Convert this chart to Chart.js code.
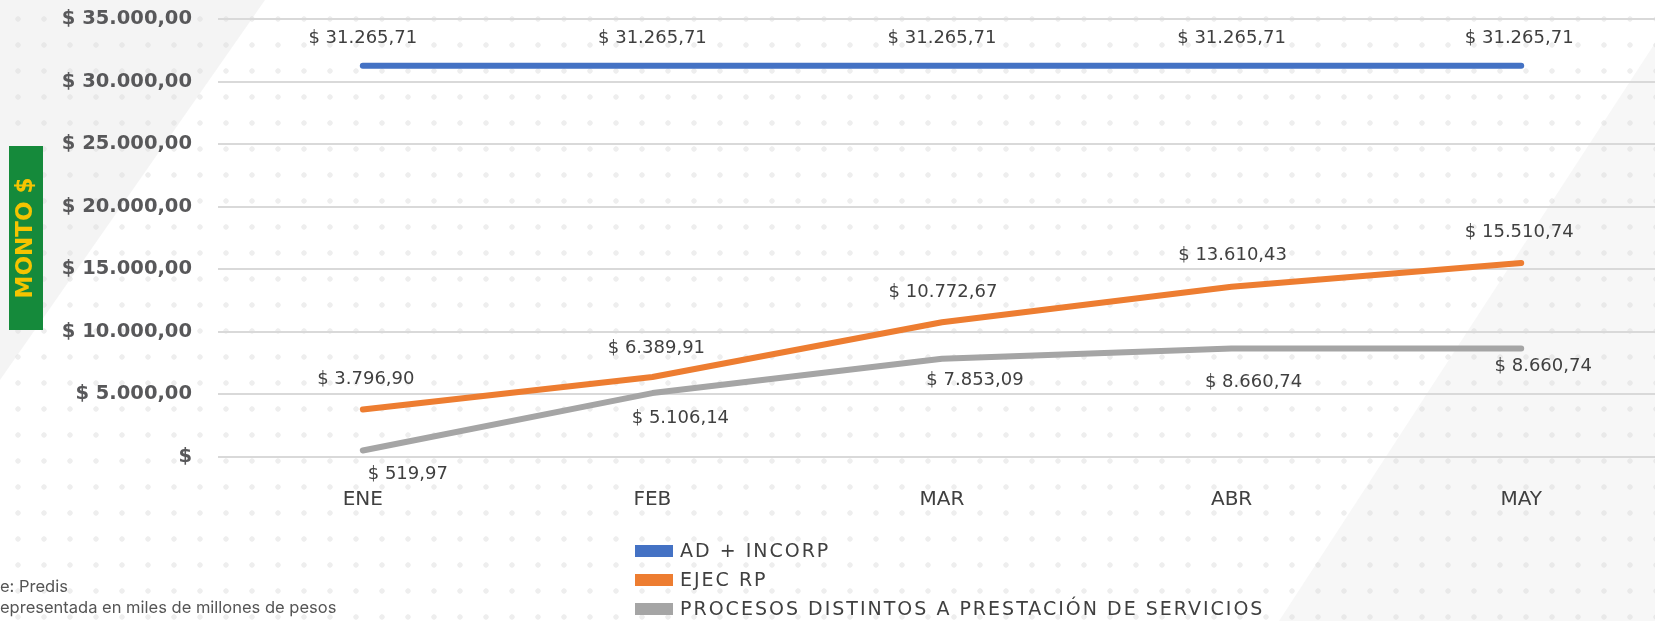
<!DOCTYPE html>
<html>
<head>
<meta charset="UTF-8">
<title>Monto por mes</title>
<style type="text/css">
html, body {
	margin: 0;
	padding: 0;
	width: 1655px;
	height: 621px;
	overflow: hidden;
	font-family: "DejaVu Sans", sans-serif;
}
body {
	position: relative;
	background-color: #ffffff;
	background-image: radial-gradient(circle, #eeeeee 0, #eeeeee 2.4px, transparent 3px);
	background-size: 26px 26px;
	background-position: 5px 6px;
}
.franja {
	position: absolute;
	background: rgba(220, 220, 220, 0.3);
}
#franjaIzq { left: 0; top: 0; width: 270px; height: 390px; clip-path: polygon(0 0, 265px 0, 0 380px); }
#franjaDer { left: 1279px; top: 43px; width: 376px; height: 578px; clip-path: polygon(376px 0, 376px 578px, 0 578px); background: rgba(220, 220, 220, 0.22); }
#contenedor {
	position: absolute;
	left: 0;
	top: 0;
	width: 1670px;
	height: 621px;
}
#leyenda {
	position: absolute;
	left: 635px;
	top: 536px;
	font-size: 19px;
	letter-spacing: 2px;
	color: #404040;
}
#leyenda div {
	height: 29px;
	line-height: 29px;
	white-space: nowrap;
}
#leyenda span.caja {
	display: inline-block;
	width: 38px;
	height: 12px;
	margin-right: 7px;
	vertical-align: 0px;
}
.nota {
	position: absolute;
	left: 0;
	font-family: Inter, "Open Sans", sans-serif;
	font-size: 16.5px;
	color: #555;
	white-space: nowrap;
}
</style>
<script type="text/javascript" src="https://cdn.jsdelivr.net/npm/chart.js@4/dist/chart.umd.min.js"></script>
</head>
<body>
	<div class="franja" id="franjaIzq"></div>
	<div class="franja" id="franjaDer"></div>
	<div id="contenedor"><canvas id="grafica" width="1670" height="621"></canvas></div>
	<div id="leyenda"></div>
	<div class="nota" style="top: 576px;">e: Predis</div>
	<div class="nota" style="top: 597px;">epresentada en miles de millones de pesos</div>
<script type="text/javascript">
	// Datos (miles de millones de pesos)
	var meses = ['ENE', 'FEB', 'MAR', 'ABR', 'MAY'];
	var adIncorp = [31265.71, 31265.71, 31265.71, 31265.71, 31265.71];
	var ejecRp = [3796.90, 6389.91, 10772.67, 13610.43, 15510.74];
	var procesosDistintos = [519.97, 5106.14, 7853.09, 8660.74, 8660.74];
	var nombresSeries = ['AD + INCORP', 'EJEC RP', 'PROCESOS DISTINTOS A PRESTACIÓN DE SERVICIOS'];
	var colores = ['#4472c4', '#ed7d31', '#a5a5a5'];

	var fuente = '"DejaVu Sans", sans-serif';

	// Desplazamiento de las etiquetas respecto a cada punto
	var desplazamientos = [
		[[0, -27], [0, -27], [0, -27], [0, -27], [-2, -27]],
		[[3, -30], [4, -29], [1, -30], [1, -31], [-2, -31]],
		[[45, 24], [28, 25], [33, 22], [22, 34], [22, 18]]
	];

	function formatoPesos(v) {
		if (v == 0) return '$';
		var partes = v.toFixed(2).split('.');
		partes[0] = partes[0].replace(/\B(?=(\d{3})+(?!\d))/g, '.');
		return '$ ' + partes.join(',');
	}

	// Caja verde detras del titulo del eje Y
	var cajaTitulo = {
		id: 'cajaTitulo',
		beforeDraw: function(chart) {
			var ctx = chart.ctx;
			var area = chart.chartArea;
			var cy = (area.top + area.bottom) / 2;
			ctx.save();
			ctx.fillStyle = '#158a3b';
			ctx.fillRect(9, cy - 92, 34, 184);
			ctx.restore();
		}
	};

	// Etiquetas de valor junto a cada punto
	var etiquetas = {
		id: 'etiquetas',
		afterDatasetsDraw: function(chart) {
			var ctx = chart.ctx;
			ctx.save();
			ctx.font = '18px ' + fuente;
			ctx.fillStyle = '#404040';
			ctx.textAlign = 'center';
			ctx.textBaseline = 'middle';
			chart.data.datasets.forEach(function(ds, i) {
				chart.getDatasetMeta(i).data.forEach(function(punto, j) {
					var d = desplazamientos[i][j];
					ctx.fillText(formatoPesos(ds.data[j]), punto.x + d[0], punto.y + d[1]);
				});
			});
			ctx.restore();
		}
	};

	var series = [adIncorp, ejecRp, procesosDistintos];
	var datasets = series.map(function(valores, i) {
		return {
			label: nombresSeries[i],
			data: valores,
			borderColor: colores[i],
			backgroundColor: colores[i],
			borderWidth: 6,
			borderCapStyle: 'round',
			borderJoinStyle: 'round',
			pointRadius: 0,
			tension: 0,
			fill: false
		};
	});

	var grafica = new Chart(document.getElementById('grafica').getContext('2d'), {
		type: 'line',
		data: { labels: meses, datasets: datasets },
		options: {
			responsive: false,
			animation: false,
			layout: { padding: { top: 19, right: 4, left: 0, bottom: 0 } },
			plugins: {
				legend: { display: false },
				tooltip: { enabled: false }
			},
			scales: {
				x: {
					offset: true,
					grid: { display: false, drawTicks: false },
					border: { display: false },
					ticks: {
						padding: 31,
						color: '#404040',
						font: { family: fuente, size: 20 }
					},
					afterFit: function(scale) { scale.height = 164; }
				},
				y: {
					min: 0,
					max: 35000,
					grid: { color: '#d9d9d9', lineWidth: 2, drawTicks: false },
					border: { display: false },
					ticks: {
						stepSize: 5000,
						padding: 26,
						color: '#58585a',
						font: { family: fuente, size: 19.5, weight: 'bold' },
						callback: function(v) { return formatoPesos(v); }
					},
					title: {
						display: true,
						text: 'MONTO $',
						color: '#f5c400',
						padding: { top: 12, bottom: 0 },
						font: { family: fuente, size: 23, weight: 'bold' }
					},
					afterFit: function(scale) {
						scale.width = 218;
						// sin relleno extra arriba/abajo: el area empieza en el padding del layout
						scale.paddingTop = 0;
						scale.paddingBottom = 0;
					}
				}
			}
		},
		plugins: [cajaTitulo, etiquetas]
	});

	// Leyenda en columna a partir de los datasets
	var leyenda = document.getElementById('leyenda');
	grafica.data.datasets.forEach(function(ds) {
		var fila = document.createElement('div');
		var caja = document.createElement('span');
		caja.className = 'caja';
		caja.style.background = ds.borderColor;
		fila.appendChild(caja);
		fila.appendChild(document.createTextNode(ds.label));
		leyenda.appendChild(fila);
	});
</script>
</body>
</html>
